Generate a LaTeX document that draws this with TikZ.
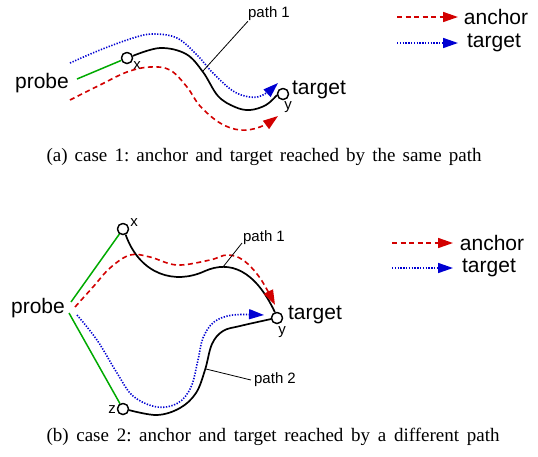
\documentclass[tikz,border=0pt]{standalone}
\usepackage{fontspec}
\setmainfont{Liberation Serif}
\newfontfamily\labsans{Liberation Sans}
\usetikzlibrary{arrows.meta}
\definecolor{ared}{RGB}{210,0,0}
\definecolor{tblue}{RGB}{0,0,210}
\definecolor{pgreen}{RGB}{0,170,0}
\tikzset{
  hop/.style={circle,draw,fill=white,minimum size=11pt,inner sep=0pt,line width=1.3pt},
  bigtxt/.style={font=\labsans\fontsize{21}{24}\selectfont,inner sep=0pt},
  smalltxt/.style={font=\labsans\fontsize{15}{17}\selectfont,inner sep=0pt},
  captxt/.style={font=\fontsize{19}{22}\selectfont\frenchspacing,inner sep=0pt},
  pathline/.style={line width=1.7pt,black},
  greenline/.style={line width=1.5pt,pgreen},
  anchorline/.style={line width=1.6pt,ared,dash pattern=on 5pt off 3.5pt,-{Triangle[length=15pt,width=10pt]}},
  targetline/.style={line width=1.6pt,tblue,dash pattern=on 1.3pt off 1.5pt,-{Triangle[length=15pt,width=10pt]}},
  leader/.style={line width=0.8pt,black},
}
\begin{document}
\begin{tikzpicture}[x=1pt,y=-1pt]
\useasboundingbox (0,0) rectangle (538,456);

% ---------- case 1 ----------
\node[bigtxt] (probe1) at (42,83) {probe};
\node[hop] (x1) at (127,58) {};
\node[smalltxt] (xl1) at (137,66) {x};
\node[hop] (y1) at (283,94) {};
\node[smalltxt] (yl1) at (288,107) {y};
\node[bigtxt] (target1) at (319,90) {target};
\node[smalltxt] (p1a) at (269,14) {path 1};

\coordinate (g1s) at (77,79);
\coordinate (b1s) at (70,63);
\coordinate (b1e) at (278,83);
\coordinate (r1s) at (70,100);
\coordinate (r1e) at (278,116);
\coordinate (l1e) at (203,71);

\draw[greenline] (g1s) -- (x1);
\draw[targetline] plot[smooth,tension=0.6] coordinates {(b1s) (100,50) (133,38) (153,34) (177,38) (197,55) (213,73) (233,91) (250,97) (263,95) (b1e)};
\draw[anchorline] plot[smooth,tension=0.6] coordinates {(r1s) (100,85) (127,72) (150,67) (170,70) (187,87) (200,106) (220,123) (240,130) (260,127) (r1e)};
\draw[pathline] plot[smooth,tension=0.6] coordinates {(x1.20) (160,48) (186,54) (203,72) (218,96) (235,107) (250,110) (266,105) (y1.190)};
\draw[leader] (p1a.south west) -- (l1e);
\node[hop] at (x1) {};
\node[hop] at (y1) {};

% legend 1
\coordinate (la1s) at (397,17);
\coordinate (la1e) at (458,17);
\node[bigtxt] (la1) at (496,17) {anchor};
\coordinate (lt1s) at (397,43);
\coordinate (lt1e) at (458,43);
\node[bigtxt] (lt1) at (494,43) {target};
\draw[anchorline] (la1s) -- (la1e);
\draw[targetline] (lt1s) -- (lt1e);

\node[captxt] (capa) at (264,157) {\makebox[435pt][s]{(a) case 1: anchor and target reached by the same path}};

% ---------- case 2 ----------
\node[bigtxt] (probe2) at (38,308) {probe};
\node[hop] (x2) at (123,229) {};
\node[smalltxt] (xl2) at (134,223) {x};
\node[hop] (z2) at (123,409) {};
\node[smalltxt] (zl2) at (112,410) {z};
\node[hop] (y2) at (277,318) {};
\node[smalltxt] (yl2) at (282,332) {y};
\node[bigtxt] (target2) at (315,315) {target};
\node[smalltxt] (p2a) at (264,238) {path 1};
\node[smalltxt] (p2b) at (275,380) {path 2};

\coordinate (g2s) at (71,302);
\coordinate (g3s) at (69,313);
\coordinate (r2s) at (75,307);
\coordinate (r2e) at (275,305);
\coordinate (b2s) at (77,315);
\coordinate (b2e) at (264,315);
\coordinate (l2s) at (242,243);
\coordinate (l2e) at (223,267);
\coordinate (l3e) at (206,369);

\draw[greenline] (g2s) -- (x2);
\draw[greenline] (g3s) -- (z2);
\draw[pathline] (x2.-65) .. controls (140,275) and (175,285) .. (205,271) .. controls (230,260) and (255,270) .. (y2.110);
\draw[pathline] plot[smooth,tension=0.6] coordinates {(z2.-10) (157,415) (180,408) (196,393) (205,370) (212,344) (223,331) (240,326) (y2.190)};
\draw[anchorline] plot[smooth,tension=0.6] coordinates {(r2s) (93,287) (110,268) (130,255) (150,257) (177,265) (210,260) (227,255) (243,260) (260,278) (r2e)};
\draw[targetline] plot[smooth,tension=0.6] coordinates {(b2s) (97,340) (117,373) (133,396) (157,407) (178,403) (191,387) (198,360) (203,338) (214,322) (233,315) (b2e)};
\draw[leader] (l2s) -- (l2e);
\draw[leader] (p2b.west) ++(-3,0) -- (l3e);
\node[hop] at (x2) {};
\node[hop] at (z2) {};
\node[hop] at (y2) {};

% legend 2
\coordinate (la2s) at (392,243);
\coordinate (la2e) at (453,243);
\node[bigtxt] (la2) at (492,243) {anchor};
\coordinate (lt2s) at (392,268);
\coordinate (lt2e) at (453,268);
\node[bigtxt] (lt2) at (489,268) {target};
\draw[anchorline] (la2s) -- (la2e);
\draw[targetline] (lt2s) -- (lt2e);

\node[captxt] (capb) at (273,437) {\makebox[453pt][s]{(b) case 2: anchor and target reached by a different path}};
\end{tikzpicture}
\end{document}
